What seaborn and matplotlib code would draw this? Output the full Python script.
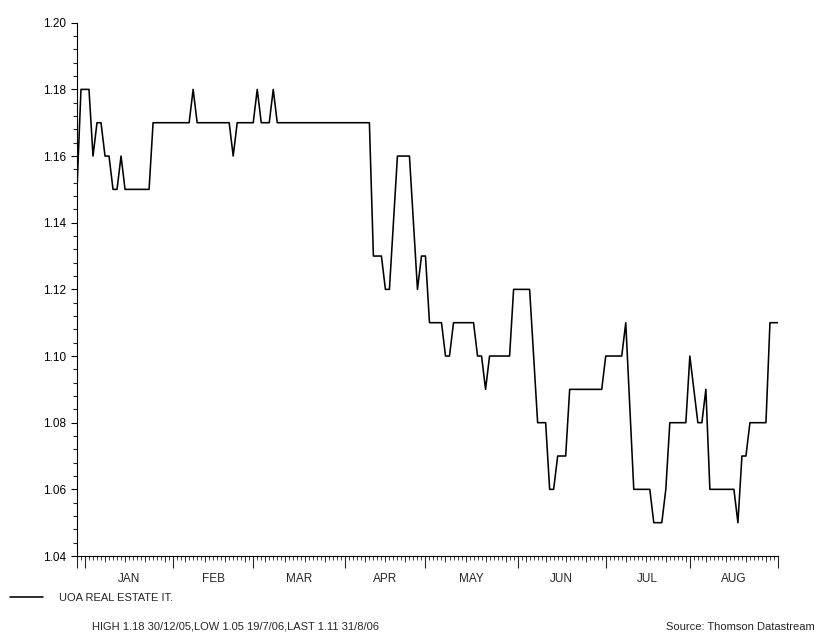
import pandas as pd
import numpy as np
import matplotlib
matplotlib.use("Agg")
import matplotlib.pyplot as plt
import seaborn as sns

# daily (business day) prices, 29/12/05 .. 31/8/06
start_date = "2005-12-29"
end_date = "2006-08-31"
prices = [
    1.15, 1.18, 1.18, 1.18, 1.16, 1.17, 1.17, 1.16, 1.16, 1.15,
    1.15, 1.16, 1.15, 1.15, 1.15, 1.15, 1.15, 1.15, 1.15, 1.17,
    1.17, 1.17, 1.17, 1.17, 1.17, 1.17, 1.17, 1.17, 1.17, 1.18,
    1.17, 1.17, 1.17, 1.17, 1.17, 1.17, 1.17, 1.17, 1.17, 1.16,
    1.17, 1.17, 1.17, 1.17, 1.17, 1.18, 1.17, 1.17, 1.17, 1.18,
    1.17, 1.17, 1.17, 1.17, 1.17, 1.17, 1.17, 1.17, 1.17, 1.17,
    1.17, 1.17, 1.17, 1.17, 1.17, 1.17, 1.17, 1.17, 1.17, 1.17,
    1.17, 1.17, 1.17, 1.17, 1.13, 1.13, 1.13, 1.12, 1.12, 1.14,
    1.16, 1.16, 1.16, 1.16, 1.14, 1.12, 1.13, 1.13, 1.11, 1.11,
    1.11, 1.11, 1.10, 1.10, 1.11, 1.11, 1.11, 1.11, 1.11, 1.11,
    1.10, 1.10, 1.09, 1.10, 1.10, 1.10, 1.10, 1.10, 1.10, 1.12,
    1.12, 1.12, 1.12, 1.12, 1.10, 1.08, 1.08, 1.08, 1.06, 1.06,
    1.07, 1.07, 1.07, 1.09, 1.09, 1.09, 1.09, 1.09, 1.09, 1.09,
    1.09, 1.09, 1.10, 1.10, 1.10, 1.10, 1.10, 1.11, 1.085, 1.06,
    1.06, 1.06, 1.06, 1.06, 1.05, 1.05, 1.05, 1.06, 1.08, 1.08,
    1.08, 1.08, 1.08, 1.10, 1.09, 1.08, 1.08, 1.09, 1.06, 1.06,
    1.06, 1.06, 1.06, 1.06, 1.06, 1.05, 1.07, 1.07, 1.08, 1.08,
    1.08, 1.08, 1.08, 1.11, 1.11, 1.11,
]
series_name = "UOA REAL ESTATE IT."
month_names = ["JAN", "FEB", "MAR", "APR", "MAY", "JUN", "JUL", "AUG"]
y_ticks = [1.04, 1.06, 1.08, 1.10, 1.12, 1.14, 1.16, 1.18, 1.20]
footer_left = "HIGH 1.18 30/12/05,LOW 1.05 19/7/06,LAST 1.11 31/8/06"
footer_right = "Source: Thomson Datastream"

dates = pd.bdate_range(start_date, end_date)
df = pd.DataFrame({"date": dates, "pos": np.arange(len(dates)), "price": prices})

sns.set_style("ticks")
plt.rcParams["font.family"] = ["Liberation Sans", "DejaVu Sans"]

fig = plt.figure(figsize=(8.25, 6.35), dpi=100)
ax = fig.add_axes([0.0933, 0.1244, 0.8497, 0.8398])

sns.lineplot(data=df, x="pos", y="price", color="black", linewidth=1.15,
             label=series_name, ax=ax)

n = len(df)
ax.set_xlim(0, n - 1)
ax.set_ylim(1.04, 1.20)
sns.despine(ax=ax)
for s in ["left", "bottom"]:
    ax.spines[s].set_linewidth(0.8)
    ax.spines[s].set_color("black")

# y axis
ax.set_yticks(y_ticks)
ax.set_yticklabels([f"{v:.2f}" for v in y_ticks])
ax.set_yticks(np.arange(1.04, 1.2001, 0.004), minor=True)
ax.tick_params(axis="y", which="major", length=4.2, width=0.8, pad=3.5,
               labelsize=8.5, colors="black")
ax.tick_params(axis="y", which="minor", length=2.8, width=0.8)

# x axis: month starts as long ticks, each day as small ticks
month_start = [0] + [i for i in range(1, n) if df["date"][i].month != df["date"][i - 1].month] + [n - 1]
ax.set_xticks(month_start)
ax.set_xticklabels([])
ax.set_xticks(df["pos"], minor=True)
ax.tick_params(axis="x", which="major", length=8.6, width=0.8)
ax.tick_params(axis="x", which="minor", length=2.6, width=0.6)

# mondays a bit longer
mondays = df.loc[df["date"].dt.weekday == 0, "pos"].tolist()
wk = ax.secondary_xaxis("bottom")
wk.set_xticks(mondays)
wk.set_xticklabels([])
wk.tick_params(length=4.0, width=0.6)
wk.spines["bottom"].set_visible(False)

# month labels centred between month starts
starts = month_start[1:]
mids = [(starts[k] + starts[k + 1]) / 2 for k in range(len(starts) - 1)]
lab = ax.secondary_xaxis("bottom")
lab.set_xticks(mids)
lab.set_xticklabels(month_names)
lab.tick_params(length=0, pad=12.5, labelsize=8.5)
lab.spines["bottom"].set_visible(False)

ax.set_xlabel("")
ax.set_ylabel("")

ax.legend(loc="center left", bbox_to_anchor=(0.012, 0.059), bbox_transform=fig.transFigure,
          frameon=False, fontsize=8, handlelength=3.0, handletextpad=1.4, borderpad=0,
          borderaxespad=0)

fig.text(0.111, 0.005, footer_left, fontsize=8, ha="left", va="bottom")
fig.text(0.988, 0.005, footer_right, fontsize=8, ha="right", va="bottom")

fig.savefig("out.png", dpi=100)
